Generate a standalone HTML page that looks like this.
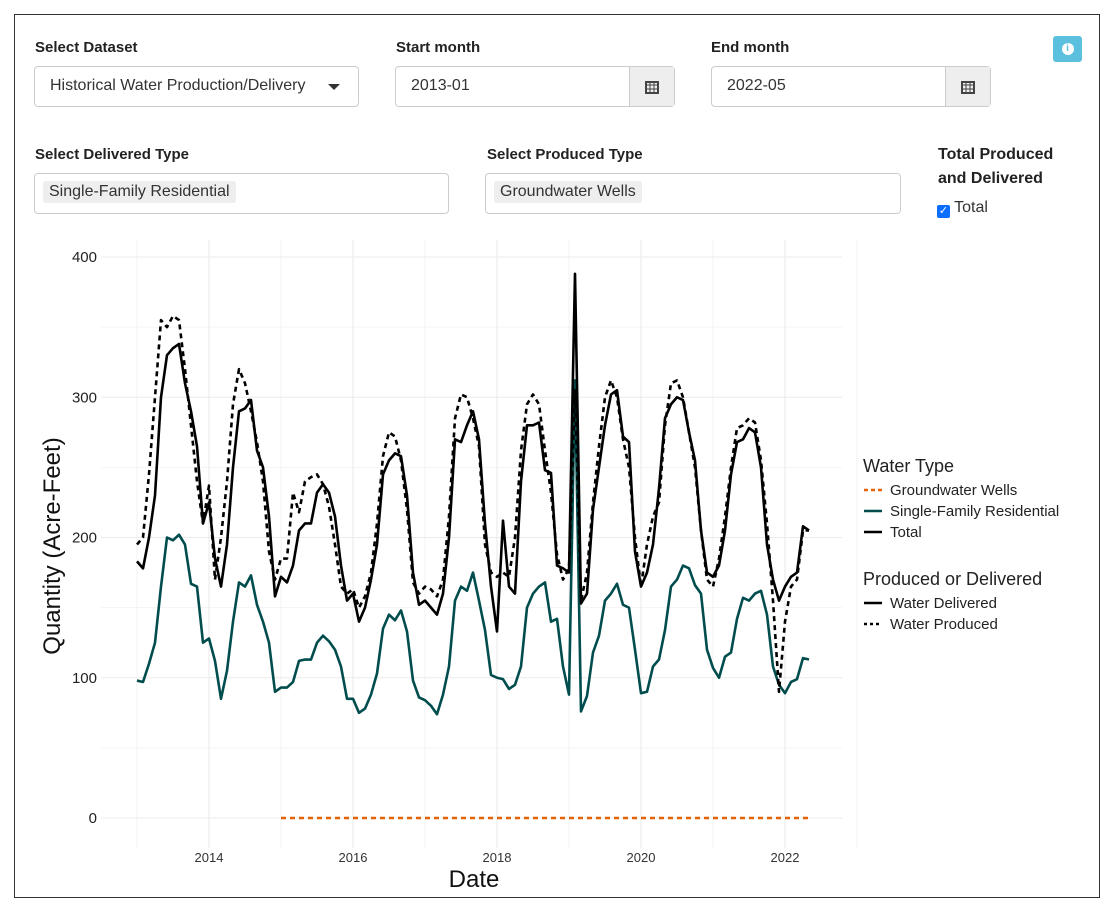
<!DOCTYPE html>
<html><head><meta charset="utf-8">
<style>
body{margin:0;width:1111px;height:905px;background:#fff;font-family:"Liberation Sans",sans-serif;color:#333;overflow:hidden}
.frame{position:absolute;left:14px;top:14px;width:1086px;height:884px;border:1px solid #333;box-sizing:border-box}
.lbl{position:absolute;font-weight:bold;font-size:15px;color:#222}
.box{position:absolute;border:1px solid #ccc;border-radius:4px;box-sizing:border-box;font-size:16px;background:#fff}
.addon{position:absolute;right:0;top:0;bottom:0;width:44px;background:#eee;border-left:1px solid #ccc;display:flex;align-items:center;justify-content:center}
.tag{position:absolute;left:8px;top:7px;background:#eee;border-radius:3px;padding:2px 6px;font-size:16px}
</style></head><body>
<div class="frame"></div>
<div class="lbl" style="left:35px;top:39px">Select Dataset</div>
<div class="box" style="left:34px;top:66px;width:325px;height:41px"><span style="position:absolute;left:15px;top:10px">Historical Water Production/Delivery</span><span style="position:absolute;right:18px;top:17px;border-left:6px solid transparent;border-right:6px solid transparent;border-top:6px solid #333"></span></div>
<div class="lbl" style="left:396px;top:39px">Start month</div>
<div class="box" style="left:395px;top:66px;width:280px;height:41px"><span style="position:absolute;left:15px;top:10px">2013-01</span><div class="addon"><svg width="14" height="14"><rect x="1" y="2" width="12" height="11" fill="none" stroke="#444" stroke-width="2"/><path d="M1 5h12M5 2v11M9 2v11M1 9h12" stroke="#444"/></svg></div></div>
<div class="lbl" style="left:711px;top:39px">End month</div>
<div class="box" style="left:711px;top:66px;width:280px;height:41px"><span style="position:absolute;left:15px;top:10px">2022-05</span><div class="addon"><svg width="14" height="14"><rect x="1" y="2" width="12" height="11" fill="none" stroke="#444" stroke-width="2"/><path d="M1 5h12M5 2v11M9 2v11M1 9h12" stroke="#444"/></svg></div></div>
<div style="position:absolute;left:1053px;top:36px;width:29px;height:26px;background:#5bc0de;border-radius:3px;display:flex;align-items:center;justify-content:center"><span style="width:12px;height:12px;border-radius:50%;background:#fff;color:#5bc0de;font-size:10px;font-weight:bold;text-align:center;line-height:12px">i</span></div>
<div class="lbl" style="left:35px;top:146px">Select Delivered Type</div>
<div class="box" style="left:34px;top:173px;width:415px;height:41px"><span class="tag">Single-Family Residential</span></div>
<div class="lbl" style="left:487px;top:146px">Select Produced Type</div>
<div class="box" style="left:485px;top:173px;width:416px;height:41px"><span class="tag">Groundwater Wells</span></div>
<div class="lbl" style="left:938px;top:143px;line-height:24px;font-size:16px">Total Produced<br>and Delivered</div>
<div style="position:absolute;left:937px;top:199px;font-size:16px"><span style="display:inline-block;width:13px;height:13px;background:#0d6efd;border-radius:2px;vertical-align:-2px;color:#fff;font-size:11px;text-align:center;line-height:13px">✓</span> Total</div>
<svg id="chart" width="1111" height="905" style="position:absolute;left:0;top:0"></svg>
<script>
const years=[2014,2016,2018,2020,2022];
const yTicks=[0,100,200,300,400];
const delivered=[183,178,200,230,300,330,335,338,310,290,265,210,
225,185,165,195,250,290,292,298,262,250,215,158,
172,168,180,205,210,210,232,238,232,215,180,155,
160,140,150,170,195,245,255,260,258,230,175,152,
155,150,145,160,200,270,268,280,290,270,210,165,
133,212,165,160,240,280,280,282,248,246,180,178,
175,388,153,160,220,250,280,302,305,272,268,190,
165,175,195,235,285,295,300,298,275,255,205,175,
172,180,205,245,268,270,278,275,250,195,170,155,
165,172,175,208,205];
const produced=[195,200,245,300,355,350,358,355,320,280,240,210,
237,170,200,240,295,320,310,290,268,240,190,170,
185,185,232,218,240,243,245,238,222,195,165,160,
163,150,158,175,210,258,275,272,255,220,168,160,
165,163,158,170,215,285,302,300,285,265,195,175,
172,175,172,200,262,295,302,295,262,232,188,170,
178,305,155,175,225,265,300,312,300,270,250,200,
165,195,215,225,280,310,312,300,275,250,205,170,
165,185,215,250,278,280,285,282,255,210,155,90,
140,165,170,205,205];
const sfr=[98,97,110,125,165,200,198,202,195,167,165,125,
128,112,85,105,140,168,165,173,152,140,125,90,
93,93,97,112,113,113,125,130,126,120,108,85,
85,75,78,88,103,135,145,141,148,133,98,86,
84,80,74,88,108,155,165,162,175,155,134,102,
100,99,92,95,108,150,160,165,168,140,142,108,
88,312,76,87,118,130,155,160,167,152,150,120,
89,90,108,113,134,165,170,180,178,166,160,120,
107,100,115,118,142,157,155,160,162,145,108,95,
89,97,99,114,113];
const gwStart=24; const gw=new Array(89).fill(0);
const svg=document.getElementById('chart');const NS='http://www.w3.org/2000/svg';
const x=i=>137+6*i; const xy=yr=>137+72*(yr-2013); const y=v=>818-v*1.4025;
function el(t,a,p){const e=document.createElementNS(NS,t);for(const k in a)e.setAttribute(k,a[k]);(p||svg).appendChild(e);return e;}
for(let v=0;v<=400;v+=50){const g=el('line',{x1:101,x2:842,y1:y(v),y2:y(v),stroke:'#ebebeb','stroke-width':v%100?0.6:1.1});}
for(let yr=2013;yr<=2023;yr++){const g=el('line',{x1:xy(yr),x2:xy(yr),y1:240,y2:848,stroke:'#ebebeb','stroke-width':yr%2?0.6:1.1});}
yTicks.forEach(v=>{const t=el('text',{x:97,y:y(v)+5,'text-anchor':'end','font-size':15,fill:'#222'});t.textContent=v;});
years.forEach(yr=>{const t=el('text',{x:xy(yr),y:862,'text-anchor':'middle','font-size':13,fill:'#333'});t.textContent=yr;});
function line(arr,off,col,dash,name){const p=el('polyline',{points:arr.map((v,i)=>x(i+off)+','+y(v)).join(' '),fill:'none',stroke:col,'stroke-width':2.6,'stroke-dasharray':dash||'none','stroke-linejoin':'round'});}
line(gw,gwStart,'#e66101','5 4','groundwater-line');
line(sfr,0,'#014d4e',null,'single-family-line');
line(produced,0,'#000','5 4','total-produced-line');
line(delivered,0,'#000',null,'total-delivered-line');
let t=el('text',{x:474,y:887,'text-anchor':'middle','font-size':24,fill:'#111'});t.textContent='Date';
t=el('text',{x:0,y:0,'text-anchor':'middle','font-size':24,fill:'#111',transform:'translate(60,546) rotate(-90)'});t.textContent='Quantity (Acre-Feet)';
const leg=[['Water Type',null,863,472,18],['Groundwater Wells',['#e66101','4 3'],890,495,15],['Single-Family Residential',['#014d4e','none'],890,516,15],['Total',['#000','none'],890,537,15],['Produced or Delivered',null,863,585,18],['Water Delivered',['#000','none'],890,608,15],['Water Produced',['#000','3 3'],890,629,15]];
leg.forEach(l=>{const tx=el('text',{x:l[2],y:l[3],'font-size':l[4],fill:'#222'});tx.textContent=l[0];
if(l[1]){const k=el('line',{x1:864,x2:882,y1:l[3]-5,y2:l[3]-5,stroke:l[1][0],'stroke-width':2.5,'stroke-dasharray':l[1][1]});}});
</script>
</body></html>
